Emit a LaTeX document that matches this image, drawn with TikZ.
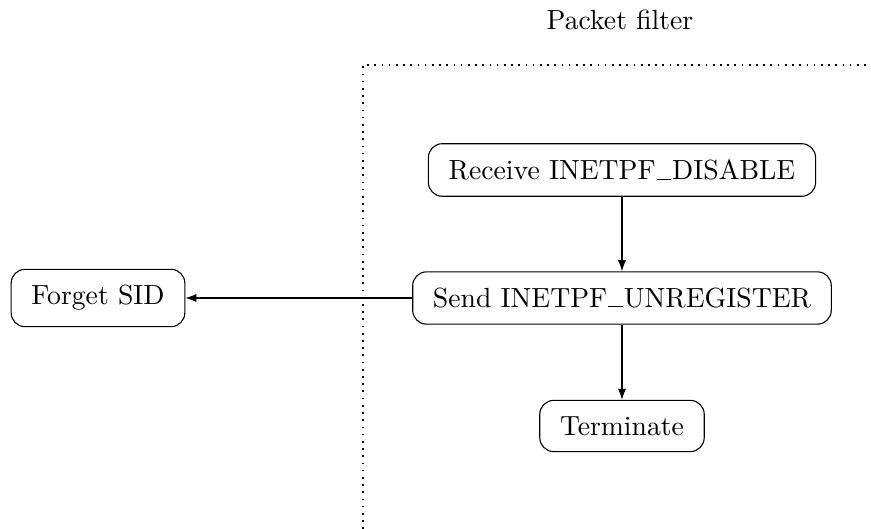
\documentclass[tikz,border=0pt]{standalone}
\usetikzlibrary{arrows.meta}
% low-rule underscore sitting on the baseline
\newcommand{\lowbar}{\leavevmode\kern.04em\rule{.52em}{0.4pt}\kern.04em}
\begin{document}
\begin{tikzpicture}[x=0.361pt, y=-0.361pt,
  stepbox/.style={draw, rounded corners=5pt, inner xsep=7.3pt, inner ysep=5.8pt},
  flow/.style={-{Latex[length=4pt,width=3pt]}},
  zone/.style={dotted, line width=0.6pt}]
  \useasboundingbox (0,0) rectangle (871,529);

  % packet filter zone
  \node (pflabel) at (620,20) {Packet filter};
  \draw[zone] (363,529) -- (363,65) -- (871,65);

  % steps
  \node[stepbox] (recv) at (622,170) {Receive INETPF\lowbar DISABLE};
  \node[stepbox] (send) at (622,298) {Send INETPF\lowbar UNREGISTER};
  \node[stepbox] (term) at (622,426) {Terminate};
  \node[stepbox] (forget) at (98,298) {Forget SID};

  % connectors
  \draw[flow] (recv) -- (send);
  \draw[flow] (send) -- (term);
  \draw[flow] (send.west) -- (forget.east |- send.west);
\end{tikzpicture}
\end{document}
